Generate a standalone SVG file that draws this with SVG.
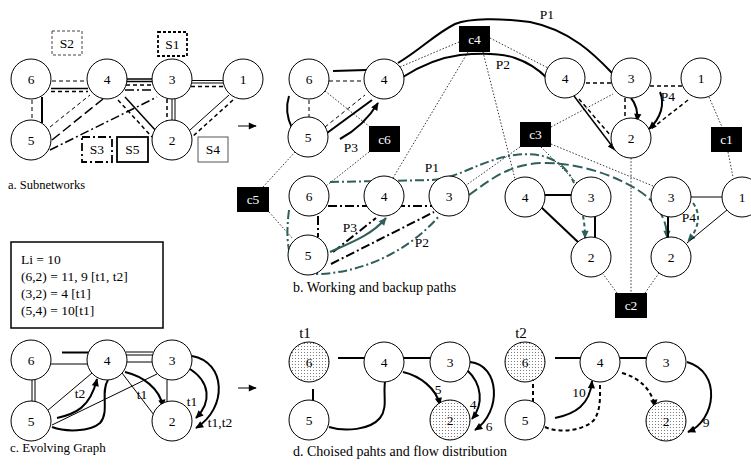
<svg xmlns="http://www.w3.org/2000/svg" width="751" height="467" viewBox="0 0 751 467">
<style>
.n{fill:#fff;stroke:#000;stroke-width:1}
.nd{fill:url(#dots);stroke:#000;stroke-width:1}
.t{font-family:"Liberation Serif",serif;font-size:13.5px;text-anchor:middle;fill:#000}
.lab{font-family:"Liberation Serif",serif;font-size:13.5px;fill:#000}
.ct{font-family:"Liberation Serif",serif;font-size:13.5px;text-anchor:middle;fill:#fff}
.th{stroke:#000;stroke-width:2;fill:none}
.md{stroke:#000;stroke-width:1.5;fill:none}
.tn{stroke:#000;stroke-width:1;fill:none}
.ds{stroke-dasharray:4 3}
.dd{stroke-dasharray:9 3 2 3}
.ld{stroke-dasharray:10 4}
.dot{stroke:#000;stroke-width:0.8;stroke-dasharray:1.5 1.8;fill:none}
.tl{stroke:#2f5f5a;stroke-width:2;fill:none}
</style>
<defs>
<pattern id="dots" width="3" height="3" patternUnits="userSpaceOnUse"><rect width="3" height="3" fill="#fff"/><circle cx="1.5" cy="1.5" r="0.55" fill="#666"/></pattern>
<marker id="ah" viewBox="0 0 10 10" refX="9" refY="5" markerWidth="9" markerHeight="8" markerUnits="userSpaceOnUse" orient="auto"><path d="M0,0.5 L10,5 L0,9.5 z" fill="#000"/></marker>
<marker id="aht" viewBox="0 0 10 10" refX="9" refY="5" markerWidth="9" markerHeight="8" markerUnits="userSpaceOnUse" orient="auto"><path d="M0,0.5 L10,5 L0,9.5 z" fill="#2f5f5a"/></marker>
</defs>
<rect width="751" height="467" fill="#fff"/>

<g id="connectors">
<!-- Panel a -->
<line class="tn ds" x1="52" y1="81" x2="87" y2="81"/>
<line class="md" x1="51" y1="88.5" x2="88" y2="88.5"/>
<line class="md ds" x1="51" y1="91.5" x2="88" y2="91.5"/>
<line class="md" x1="126" y1="79" x2="153" y2="79"/>
<line class="md" x1="126" y1="81.5" x2="153" y2="81.5"/>
<line class="md ds" x1="126" y1="85" x2="153" y2="85"/>
<line class="md dd" x1="125" y1="90" x2="154" y2="90"/>
<line class="tn" x1="192" y1="80.5" x2="224" y2="80.5"/>
<line class="tn" x1="192" y1="83" x2="224" y2="83"/>
<line class="md ds" x1="191" y1="86.5" x2="224" y2="86.5"/>
<line class="tn ds" x1="32" y1="100" x2="32" y2="120"/>
<line class="th" x1="42" y1="97" x2="42" y2="123"/>
<line class="tn ds" x1="50" y1="127" x2="90" y2="95"/>
<line class="md ld" x1="52" y1="140" x2="103" y2="99"/>
<line class="md dd" x1="50" y1="150" x2="157" y2="97"/>
<line class="md" x1="125" y1="97" x2="157" y2="132"/>
<line class="md ds" x1="118" y1="100" x2="152" y2="137"/>
<line class="md ds" x1="167" y1="99" x2="167" y2="121"/>
<line class="tn" x1="172" y1="99" x2="172" y2="121"/>
<line class="tn" x1="175" y1="99" x2="175" y2="121"/>
<line class="tn" x1="229" y1="95" x2="190" y2="130"/>
<line class="md ds" x1="233" y1="100" x2="192" y2="137"/>
<line class="tn" x1="238" y1="126" x2="256" y2="126" marker-end="url(#ah)"/>

<!-- Panel b dotted control links -->
<line class="dot" x1="400" y1="67" x2="459" y2="42"/>
<line class="dot" x1="490" y1="38" x2="548" y2="68"/>
<line class="dot" x1="468" y1="52" x2="393" y2="178"/>
<line class="dot" x1="483" y1="52" x2="515" y2="179"/>
<line class="dot" x1="325" y1="91" x2="370" y2="127"/>
<line class="dot" x1="369" y1="152" x2="326" y2="186"/>
<line class="dot" x1="263" y1="187" x2="295" y2="152"/>
<line class="dot" x1="269" y1="212" x2="293" y2="239"/>
<line class="dot" x1="551" y1="127" x2="613" y2="94"/>
<line class="dot" x1="520" y1="147" x2="465" y2="186"/>
<line class="dot" x1="541" y1="147" x2="577" y2="183"/>
<line class="dot" x1="551" y1="144" x2="653" y2="186"/>
<line class="dot" x1="631" y1="158" x2="631" y2="293"/>
<line class="dot" x1="617" y1="293" x2="603" y2="274"/>
<line class="dot" x1="645" y1="293" x2="659" y2="273"/>
<line class="dot" x1="709" y1="97" x2="722" y2="127"/>
<line class="dot" x1="728" y1="152" x2="733" y2="177"/>

<!-- Panel b top-left -->
<line class="tn ds" x1="329" y1="81" x2="364" y2="81"/>
<line class="tn ds" x1="309" y1="100" x2="309" y2="117"/>
<path class="th" d="M292,128 Q284,112 289,96"/>
<line class="th" x1="333" y1="71" x2="366" y2="70"/>
<line class="tn ds" x1="325" y1="127" x2="365" y2="95"/>
<line class="th" x1="327" y1="133" x2="372" y2="100"/>
<path class="th" d="M340,139 Q364,126 378,103" marker-end="url(#ah)"/>
<path class="th" d="M398,63 C420,50 435,34 455,24 C470,18 500,18 530,22 C570,30 595,55 612,73"/>
<path class="th" d="M403,77 C420,66 437,58 460,55 C480,53 500,53 515,58 C530,63 540,71 547,78"/>

<!-- Panel b top-right -->
<line class="md ds" x1="586" y1="83" x2="611" y2="83"/>
<line class="md ds" x1="650" y1="86" x2="682" y2="86"/>
<line class="md ds" x1="625" y1="98" x2="625" y2="120"/>
<line class="md" x1="574" y1="96" x2="615" y2="150" marker-end="url(#ah)"/>
<line class="md ds" x1="579" y1="99" x2="611" y2="136"/>
<path class="th" d="M631,98 C636,104 638,112 637,121" marker-end="url(#ah)"/>
<path class="th" d="M660,92 C665,104 661,118 649,129" marker-end="url(#ah)"/>
<line class="md ds" x1="688" y1="100" x2="651" y2="129"/>

<!-- Panel b middle-left -->
<line class="th dd" x1="328" y1="206" x2="432" y2="206"/>
<line class="th dd" x1="318" y1="216" x2="318" y2="237"/>
<line class="th dd" x1="333" y1="252" x2="376" y2="218"/>
<line class="th dd" x1="331" y1="264" x2="434" y2="212"/>
<path class="tl dd" d="M330,182 L432,180 C460,178 480,160 515,155 C545,151 565,162 574,183"/>
<path class="tl ld" d="M469,195 C490,180 510,163 545,163 C590,163 640,185 655,205 C663,215 667,225 667,238" marker-end="url(#aht)"/>
<path class="tl dd" d="M289,210 C284,250 290,276 320,274 C365,272 410,250 440,215"/>
<path class="tl" d="M330,252 C350,243 372,235 386,218" marker-end="url(#aht)"/>
<path class="tl ds" d="M583,216 Q585,226 585,238" marker-end="url(#aht)"/>
<path class="tl ds" d="M693,203 C702,215 698,230 688,241" marker-end="url(#aht)"/>

<!-- Panel b middle-right -->
<line class="th" x1="544" y1="195" x2="572" y2="195"/>
<line class="th" x1="541" y1="207" x2="578" y2="242"/>
<line class="th" x1="595" y1="216" x2="595" y2="238"/>
<line class="tn" x1="690" y1="197" x2="723" y2="197"/>
<line class="th" x1="668" y1="216" x2="668" y2="238"/>
<line class="tn" x1="727" y1="210" x2="687" y2="243"/>

<!-- Panel c -->
<line class="th" x1="62" y1="352.5" x2="91" y2="352.5"/>
<line class="tn" x1="51" y1="364" x2="88" y2="364"/>
<line class="tn" x1="126" y1="352" x2="153" y2="352"/>
<line class="tn" x1="126" y1="355" x2="153" y2="355"/>
<line class="tn" x1="127" y1="362" x2="152" y2="362"/>
<line class="tn" x1="32" y1="379" x2="32" y2="403"/>
<line class="tn" x1="35" y1="379" x2="35" y2="403"/>
<line class="tn" x1="47" y1="411" x2="92" y2="373"/>
<line class="tn" x1="52" y1="425" x2="157" y2="374"/>
<line class="tn" x1="122" y1="373" x2="154" y2="415"/>
<line class="tn" x1="167" y1="380" x2="167" y2="403"/>
<path class="th" d="M57,418 C75,414 90,408 97,379" marker-end="url(#ah)"/>
<path class="th" d="M52,427 C65,432 90,432 100,423 C110,412 100,392 108,380"/>
<path class="th" d="M125,372 C142,376 160,388 163,407" marker-end="url(#ah)"/>
<path class="th" d="M190,369 C210,382 212,402 196,418" marker-end="url(#ah)"/>
<path class="th" d="M192,356 C226,362 228,408 196,428" marker-end="url(#ah)"/>
<line class="tn" x1="238" y1="388" x2="256" y2="388" marker-end="url(#ah)"/>

<!-- Panel d t1 -->
<line class="th" x1="338" y1="358" x2="365" y2="358"/>
<line class="th" x1="403" y1="358" x2="432" y2="358"/>
<line class="th" x1="313" y1="389" x2="313" y2="402"/>
<path class="th" d="M329,427 C345,432 370,430 380,418 C388,408 383,395 385,382"/>
<path class="th" d="M403,372 C420,376 436,388 440,405" marker-end="url(#ah)"/>
<path class="th" d="M467,370 C482,384 484,404 472,419" marker-end="url(#ah)"/>
<path class="th" d="M470,362 C500,365 502,412 475,430" marker-end="url(#ah)"/>

<!-- Panel d t2 -->
<line class="th" x1="555" y1="358" x2="582" y2="358"/>
<line class="th" x1="620" y1="358" x2="647" y2="358"/>
<line class="th ds" x1="533" y1="377" x2="533" y2="403"/>
<path class="th" d="M555,418 C575,414 590,405 592,381" marker-end="url(#ah)"/>
<path class="th ds" d="M545,427 C560,434 585,430 594,420 C601,410 600,396 600,384"/>
<path class="th ds" d="M622,373 C640,378 652,390 655,407" marker-end="url(#ah)"/>
<path class="th" d="M687,362 C722,372 716,420 688,432" marker-end="url(#ah)"/>
</g>

<!-- Subnetwork boxes -->
<g id="subnets">
<rect x="52" y="31" width="30" height="24" fill="#fff" stroke="#444" stroke-width="1" stroke-dasharray="3 2"/>
<text class="t" x="67" y="48">S2</text>
<rect x="158" y="32" width="29" height="24" fill="#fff" stroke="#000" stroke-width="1.8" stroke-dasharray="3 2"/>
<text class="t" x="172.5" y="49">S1</text>
<rect x="82" y="137" width="30" height="25" fill="#fff" stroke="#000" stroke-width="1.8" stroke-dasharray="8 3 2 3"/>
<text class="t" x="97" y="154">S3</text>
<rect x="117" y="137" width="31" height="25" fill="#fff" stroke="#000" stroke-width="1.8"/>
<text class="t" x="132.5" y="154">S5</text>
<rect x="198" y="137" width="30" height="25" fill="#fff" stroke="#555" stroke-width="1"/>
<text class="t" x="213" y="154">S4</text>
</g>

<!-- Panel a nodes -->
<g id="a6"><circle class="n" cx="31" cy="79" r="20"/><text class="t" x="31" y="83.5">6</text></g>
<g id="a4"><circle class="n" cx="107" cy="79" r="20"/><text class="t" x="107" y="83.5">4</text></g>
<g id="a3"><circle class="n" cx="172" cy="79" r="20"/><text class="t" x="172" y="83.5">3</text></g>
<g id="a1"><circle class="n" cx="243" cy="79" r="20"/><text class="t" x="243" y="83.5">1</text></g>
<g id="a5"><circle class="n" cx="31" cy="140" r="20"/><text class="t" x="31" y="144.5">5</text></g>
<g id="a2"><circle class="n" cx="172" cy="140" r="20"/><text class="t" x="172" y="144.5">2</text></g>

<!-- Panel b nodes -->
<g id="b6"><circle class="n" cx="309" cy="79" r="20"/><text class="t" x="309" y="83.5">6</text></g>
<g id="b4"><circle class="n" cx="384" cy="79" r="20"/><text class="t" x="384" y="83.5">4</text></g>
<g id="b5"><circle class="n" cx="308" cy="137" r="20"/><text class="t" x="308" y="141.5">5</text></g>
<g id="b4r"><circle class="n" cx="565" cy="78" r="20"/><text class="t" x="565" y="82.5">4</text></g>
<g id="b3r"><circle class="n" cx="631" cy="78" r="20"/><text class="t" x="631" y="82.5">3</text></g>
<g id="b1r"><circle class="n" cx="701" cy="78" r="20"/><text class="t" x="701" y="82.5">1</text></g>
<g id="b2r"><circle class="n" cx="631" cy="138" r="20"/><text class="t" x="631" y="142.5">2</text></g>
<g id="m6"><circle class="n" cx="309" cy="196" r="20"/><text class="t" x="309" y="200.5">6</text></g>
<g id="m4"><circle class="n" cx="384" cy="196" r="20"/><text class="t" x="384" y="200.5">4</text></g>
<g id="m3"><circle class="n" cx="449" cy="196" r="20"/><text class="t" x="449" y="200.5">3</text></g>
<g id="m5"><circle class="n" cx="308" cy="255" r="20"/><text class="t" x="308" y="259.5">5</text></g>
<g id="r4"><circle class="n" cx="525" cy="197" r="20"/><text class="t" x="525" y="201.5">4</text></g>
<g id="r3"><circle class="n" cx="591" cy="197" r="20"/><text class="t" x="591" y="201.5">3</text></g>
<g id="r2"><circle class="n" cx="591" cy="257" r="20"/><text class="t" x="591" y="261.5">2</text></g>
<g id="rr3"><circle class="n" cx="671" cy="197" r="20"/><text class="t" x="671" y="201.5">3</text></g>
<g id="rr1"><circle class="n" cx="742" cy="197" r="20"/><text class="t" x="742" y="201.5">1</text></g>
<g id="rr2"><circle class="n" cx="671" cy="257" r="20"/><text class="t" x="671" y="261.5">2</text></g>

<!-- Controllers -->
<g id="c4"><rect x="459" y="26" width="31" height="26" fill="#000"/><text class="ct" x="474.5" y="43.5">c4</text></g>
<g id="c6"><rect x="369" y="126" width="31" height="26" fill="#000"/><text class="ct" x="384.5" y="143.5">c6</text></g>
<g id="c3"><rect x="520" y="122" width="31" height="25" fill="#000"/><text class="ct" x="535.5" y="139">c3</text></g>
<g id="c1"><rect x="711" y="127" width="31" height="25" fill="#000"/><text class="ct" x="726.5" y="144">c1</text></g>
<g id="c5"><rect x="237" y="187" width="32" height="25" fill="#000"/><text class="ct" x="253" y="204">c5</text></g>
<g id="c2"><rect x="615" y="293" width="32" height="25" fill="#000"/><text class="ct" x="631" y="310">c2</text></g>

<!-- Path labels -->
<g id="plabels">
<text class="t" x="547" y="19">P1</text>
<text class="t" x="503" y="69">P2</text>
<text class="t" x="351" y="152">P3</text>
<text class="t" x="668" y="101">P4</text>
<text class="t" x="432" y="172">P1</text>
<text class="t" x="422" y="247">P2</text>
<text class="t" x="350" y="232">P3</text>
<text class="t" x="689" y="222">P4</text>
</g>

<!-- Panel c -->
<g id="info">
<rect x="11" y="242" width="152" height="86" fill="#fff" stroke="#000" stroke-width="1.5"/>
<text class="lab" x="21" y="263.5">Li = 10</text>
<text class="lab" x="21" y="281">(6,2) = 11, 9 [t1, t2]</text>
<text class="lab" x="21" y="298">(3,2) = 4 [t1]</text>
<text class="lab" x="21" y="315">(5,4) = 10[t1]</text>
</g>
<g id="c6n"><circle class="n" cx="31" cy="360" r="20"/><text class="t" x="31" y="364.5">6</text></g>
<g id="c4n"><circle class="n" cx="107" cy="360" r="20"/><text class="t" x="107" y="364.5">4</text></g>
<g id="c3n"><circle class="n" cx="172" cy="360" r="20"/><text class="t" x="172" y="364.5">3</text></g>
<g id="c5n"><circle class="n" cx="31" cy="421" r="20"/><text class="t" x="31" y="425.5">5</text></g>
<g id="c2n"><circle class="n" cx="172" cy="421" r="20"/><text class="t" x="172" y="425.5">2</text></g>
<g id="clabels">
<text class="t" x="80" y="398">t2</text>
<text class="t" x="142" y="399">t1</text>
<text class="t" x="192" y="406">t1</text>
<text class="t" x="220" y="427">t1,t2</text>
</g>

<!-- Panel d -->
<text class="t" x="305" y="338" style="font-size:15px">t1</text>
<text class="t" x="521" y="338" style="font-size:15px">t2</text>
<g id="d6"><circle class="nd" cx="309" cy="362" r="20"/><text class="t" x="309" y="366.5">6</text></g>
<g id="d4"><circle class="n" cx="384" cy="362" r="20"/><text class="t" x="384" y="366.5">4</text></g>
<g id="d3"><circle class="n" cx="450" cy="362" r="20"/><text class="t" x="450" y="366.5">3</text></g>
<g id="d5"><circle class="n" cx="309" cy="420" r="20"/><text class="t" x="309" y="424.5">5</text></g>
<g id="d2"><circle class="nd" cx="450" cy="420" r="20"/><text class="t" x="450" y="424.5">2</text></g>
<g id="e6"><circle class="nd" cx="525" cy="362" r="20"/><text class="t" x="525" y="366.5">6</text></g>
<g id="e4"><circle class="n" cx="600" cy="362" r="20"/><text class="t" x="600" y="366.5">4</text></g>
<g id="e3"><circle class="n" cx="666" cy="362" r="20"/><text class="t" x="666" y="366.5">3</text></g>
<g id="e5"><circle class="n" cx="525" cy="420" r="20"/><text class="t" x="525" y="424.5">5</text></g>
<g id="e2"><circle class="nd" cx="666" cy="421" r="20"/><text class="t" x="666" y="425.5">2</text></g>
<g id="dlabels">
<text class="t" x="438" y="394">5</text>
<text class="t" x="473" y="409">4</text>
<text class="t" x="489" y="431">6</text>
<text class="t" x="579" y="397">10</text>
<text class="t" x="706" y="427">9</text>
</g>

<!-- Captions -->
<text class="lab" x="8" y="189" style="font-size:12.5px">a. Subnetworks</text>
<text class="lab" x="293" y="292" style="font-size:14px">b. Working and backup paths</text>
<text class="lab" x="10" y="452" style="font-size:13px">c. Evolving Graph</text>
<text class="lab" x="293" y="456" style="font-size:14px">d. Choised pahts and flow distribution</text>
</svg>
